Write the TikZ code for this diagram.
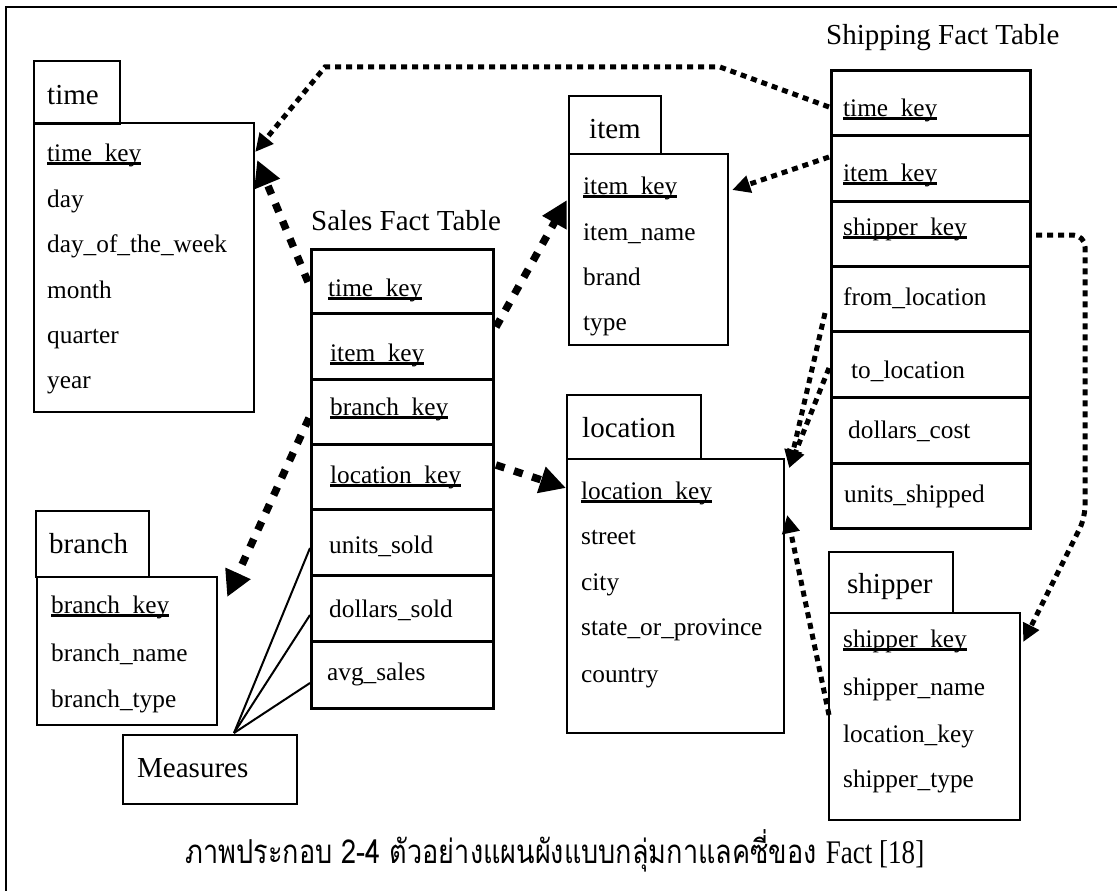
\documentclass[tikz,border=0pt]{standalone}
\usepackage{fontspec}
\setmainfont{Liberation Serif}
\newfontfamily\thaifont[Script=Thai]{Loma}
\usetikzlibrary{arrows.meta,calc}

\newcommand\fieldfont{\fontsize{25.3pt}{30pt}\selectfont}
\newcommand\headfont{\fontsize{29pt}{34pt}\selectfont}
% key attributes are underlined with a heavier rule than \underline gives
\newcommand\keyname[1]{{\setbox0\hbox{#1}\rlap{\rule[-3.6pt]{\wd0}{2.2pt}}\box0}}

\begin{document}
\begin{tikzpicture}[x=1pt,y=-1pt,
  box/.style={draw, line width=2.2pt, inner sep=0pt, anchor=north west},
  cell/.style={draw, line width=3pt, inner sep=0pt, anchor=north west, minimum width=182pt},
  shipcell/.style={draw, line width=3pt, inner sep=0pt, anchor=north west, minimum width=199pt},
  fld/.style={anchor=base west, inner sep=0pt, font=\fieldfont},
  hdr/.style={anchor=base west, inner sep=0pt, font=\headfont},
  bigdash/.style={line width=7.5pt, dash pattern=on 9pt off 10pt, -{Triangle[length=26pt,width=26pt]}},
  smalldot/.style={line width=5pt, dash pattern=on 6pt off 5pt, -{Triangle[length=18pt,width=17pt]}},
  measure/.style={line width=2pt}]

\useasboundingbox (0,0) rectangle (1117,891);
% outer frame (right and bottom sides lie beyond the page)
\draw[line width=2.5pt] (1125,7) -- (6,7) -- (6,900);

% ---- time dimension ----
\node[box, minimum width=86pt, minimum height=63pt] (timeH) at (33,60) {};
\node[box, minimum width=220pt, minimum height=289pt] (timeB) at (33,122) {};
\node[hdr] (timeT) at (47,104) {time};
\node[fld] (time1) at (47,161) {\keyname{time\_key}};
\node[fld] (time2) at (47,207) {day};
\node[fld] (time3) at (47,252) {day\_of\_the\_week};
\node[fld] (time4) at (47,298) {month};
\node[fld] (time5) at (47,343) {quarter};
\node[fld] (time6) at (47,388) {year};

% ---- sales fact table ----
\node[hdr] (salesT) at (311,230) {Sales Fact Table};
\node[cell, minimum height=64pt] (s1) at (310,248) {};
\node[cell, minimum height=66pt] (s2) at (310,312) {};
\node[cell, minimum height=65pt] (s3) at (310,378) {};
\node[cell, minimum height=65pt] (s4) at (310,443) {};
\node[cell, minimum height=66pt] (s5) at (310,508) {};
\node[cell, minimum height=66pt] (s6) at (310,574) {};
\node[cell, minimum height=67pt] (s7) at (310,640) {};
\node[fld] (s1t) at (328,296) {\keyname{time\_key}};
\node[fld] (s2t) at (330,361) {\keyname{item\_key}};
\node[fld] (s3t) at (330,415) {\keyname{branch\_key}};
\node[fld] (s4t) at (330,483) {\keyname{location\_key}};
\node[fld] (s5t) at (329,553) {units\_sold};
\node[fld] (s6t) at (329,617) {dollars\_sold};
\node[fld] (s7t) at (327,680) {avg\_sales};

% ---- item dimension ----
\node[box, minimum width=92pt, minimum height=58pt] (itemH) at (568,95) {};
\node[box, minimum width=159pt, minimum height=191pt] (itemB) at (568,153) {};
\node[hdr] (itemT) at (589,138) {item};
\node[fld] (item1) at (583,194) {\keyname{item\_key}};
\node[fld] (item2) at (583,240) {item\_name};
\node[fld] (item3) at (583,285) {brand};
\node[fld] (item4) at (583,330) {type};

% ---- location dimension ----
\node[box, minimum width=134pt, minimum height=64pt] (locH) at (566,394) {};
\node[box, minimum width=217pt, minimum height=274pt] (locB) at (566,458) {};
\node[hdr] (locT) at (582,437) {location};
\node[fld] (loc1) at (581,499) {\keyname{location\_key}};
\node[fld] (loc2) at (581,544) {street};
\node[fld] (loc3) at (581,590) {city};
\node[fld] (loc4) at (581,635) {state\_or\_province};
\node[fld] (loc5) at (581,682) {country};

% ---- shipping fact table ----
\node[hdr] (shipT) at (826,45) {Shipping Fact Table};
\node[shipcell, minimum height=65pt] (h1) at (830,69) {};
\node[shipcell, minimum height=66pt] (h2) at (830,134) {};
\node[shipcell, minimum height=65pt] (h3) at (830,200) {};
\node[shipcell, minimum height=65pt] (h4) at (830,265) {};
\node[shipcell, minimum height=66pt] (h5) at (830,330) {};
\node[shipcell, minimum height=66pt] (h6) at (830,396) {};
\node[shipcell, minimum height=65pt] (h7) at (830,462) {};
\node[fld] (h1t) at (843,116) {\keyname{time\_key}};
\node[fld] (h2t) at (843,181) {\keyname{item\_key}};
\node[fld] (h3t) at (843,235) {\keyname{shipper\_key}};
\node[fld] (h4t) at (843,305) {from\_location};
\node[fld] (h5t) at (851,378) {to\_location};
\node[fld] (h6t) at (848,438) {dollars\_cost};
\node[fld] (h7t) at (844,502) {units\_shipped};

% ---- shipper dimension ----
\node[box, minimum width=124pt, minimum height=61pt] (shipH) at (828,551) {};
\node[box, minimum width=191pt, minimum height=207pt] (shipB) at (828,612) {};
\node[hdr] (shipperT) at (847,593) {shipper};
\node[fld] (shp1) at (843,647) {\keyname{shipper\_key}};
\node[fld] (shp2) at (843,695) {shipper\_name};
\node[fld] (shp3) at (843,742) {location\_key};
\node[fld] (shp4) at (843,787) {shipper\_type};

% ---- branch dimension ----
\node[box, minimum width=113pt, minimum height=66pt] (brH) at (35,510) {};
\node[box, minimum width=180pt, minimum height=148pt] (brB) at (36,576) {};
\node[hdr] (brT) at (49,553) {branch};
\node[fld] (br1) at (51,613) {\keyname{branch\_key}};
\node[fld] (br2) at (51,661) {branch\_name};
\node[fld] (br3) at (51,707) {branch\_type};

% ---- measures ----
\node[box, minimum width=174pt, minimum height=69pt] (meas) at (122,734) {};
\node[hdr] (measT) at (137,777) {Measures};
\coordinate (measTop) at ($(meas.north west)+(112,-1)$);
\draw[measure] (measTop) -- ($(s5.north west)+(0,40)$);
\draw[measure] (measTop) -- ($(s6.north west)+(0,41)$);
\draw[measure] (measTop) -- ($(s7.north west)+(0,43)$);

% ---- sales fact links ----
\draw[bigdash] ($(s1.north west)+(-2,34)$) -- ($(timeB.north east)+(2,38)$);
\draw[bigdash] ($(s2.north east)+(1,15)$) -- ($(itemB.north west)+(-1,47)$);
\draw[bigdash] ($(s3.north west)+(-1,40)$) -- ($(brB.north east)+(9,21)$);
\draw[bigdash] ($(s4.north east)+(1,22)$) -- ($(locB.north west)+(0,30)$);

% ---- shipping fact links ----
\coordinate (bendA) at (720,67);
\coordinate (bendB) at (325,67);
\draw[smalldot] ($(h1.north west)+(-1,38)$) -- (bendA) -- (bendB) -- ($(timeB.north east)+(0,30)$);
\draw[smalldot] ($(h2.north west)+(-1,23)$) -- ($(itemB.north east)+(3,37)$);
\coordinate (turnA) at (1085,235);
\coordinate (turnB) at (1085,518);
\draw[smalldot, rounded corners=12pt] ($(h3.north east)+(4,35)$) -- (turnA) -- (turnB) -- ($(shipB.north east)+(2,30)$);
\draw[smalldot] ($(h4.north west)+(-5,48)$) -- ($(locB.north east)+(4,10)$);
\draw[smalldot] ($(h5.north west)+(-1,38)$) -- ($(locB.north east)+(4,10)$);
\draw[smalldot] ($(shipB.north west)+(1,103)$) -- ($(locB.north east)+(2,57)$);

% ---- caption (condensed Thai setting) ----
\node[anchor=base, inner sep=0pt, xscale=0.82] (caption) at (555,863)
  {\thaifont\fontsize{33pt}{38pt}\selectfont ภาพประกอบ 2-4 ตัวอย่างแผนผังแบบกลุ่มกาแลคซี่ของ {\rmfamily Fact [18]}};
\end{tikzpicture}
\end{document}
